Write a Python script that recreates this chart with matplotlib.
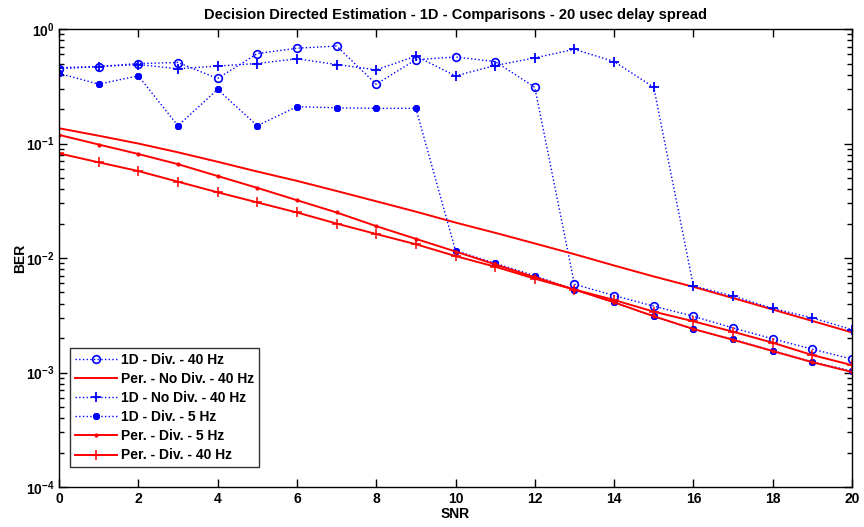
import matplotlib
matplotlib.use('Agg')
import matplotlib.pyplot as plt
import matplotlib.ticker as ticker
import numpy as np

plt.rcParams['font.family'] = ['Liberation Sans', 'DejaVu Sans']
plt.rcParams['font.weight'] = 'bold'
plt.rcParams['mathtext.fontset'] = 'custom'
plt.rcParams['mathtext.rm'] = 'Liberation Sans'
plt.rcParams['mathtext.bf'] = 'Liberation Sans:bold'

# SNR axis
snr = list(range(0, 21))

# BER values
ber_1d_div_40 = [0.45, 0.47, 0.50, 0.51, 0.37, 0.61, 0.68, 0.71, 0.33, 0.54, 0.57,
                 0.52, 0.31, 0.0059, 0.0047, 0.0038, 0.0031, 0.00245, 0.00197, 0.0016, 0.00131]
ber_per_nodiv_40 = [0.136, 0.117, 0.100, 0.0838, 0.0693, 0.0569, 0.0472, 0.0385, 0.0313, 0.0254, 0.0204,
                    0.0166, 0.0134, 0.0108, 0.0086, 0.0069, 0.0056, 0.00447, 0.00355, 0.00282, 0.00224]
ber_1d_nodiv_40 = [0.46, 0.47, 0.49, 0.45, 0.475, 0.50, 0.55, 0.49, 0.44, 0.58, 0.39,
                   0.48, 0.56, 0.665, 0.52, 0.31, 0.0057, 0.00466, 0.00363, 0.0030, 0.00237]
ber_1d_div_5 = [0.41, 0.33, 0.39, 0.143, 0.297, 0.143, 0.21, 0.205, 0.203, 0.203, 0.0116,
                0.0090, 0.0070, 0.0053, 0.0041, 0.0031, 0.00238, 0.00195, 0.00155, 0.00124, 0.00103]
ber_per_div_5 = [0.119, 0.098, 0.081, 0.066, 0.052, 0.041, 0.032, 0.025, 0.019, 0.0147, 0.0114,
                 0.0088, 0.0068, 0.0053, 0.0041, 0.0031, 0.0024, 0.00193, 0.00154, 0.00123, 0.00101]
ber_per_div_40 = [0.082, 0.0685, 0.0575, 0.0464, 0.0375, 0.0306, 0.025, 0.020, 0.0162, 0.0132, 0.0104,
                  0.0084, 0.0066, 0.0053, 0.0043, 0.0034, 0.0028, 0.00227, 0.00182, 0.00142, 0.00116]

labels = ['1D - Div. - 40 Hz', 'Per. - No Div. - 40 Hz', '1D - No Div. - 40 Hz',
          '1D - Div. - 5 Hz', 'Per. - Div. - 5 Hz', 'Per. - Div. - 40 Hz']

blue = (0, 0, 1)
red = (1, 0, 0)

fig = plt.figure(figsize=(8.64, 5.27), dpi=100)
ax = fig.add_axes([0.0683, 0.0759, 0.9178, 0.869])

ax.semilogy(snr, ber_1d_div_40, ':', color=blue, lw=1.0, marker='o', ms=5.5,
            mfc='none', mec=blue, mew=1.2, label=labels[0])
ax.semilogy(snr, ber_per_nodiv_40, '-', color=red, lw=1.4, label=labels[1])
ax.semilogy(snr, ber_1d_nodiv_40, ':', color=blue, lw=1.0, marker='+', ms=7,
            mew=1.3, label=labels[2])
ax.semilogy(snr, ber_1d_div_5, ':', color=blue, lw=1.0, marker=(8, 2, 0), ms=5,
            mew=1.4, label=labels[3])
ax.semilogy(snr, ber_per_div_5, '-', color=red, lw=1.4, marker='.', ms=4,
            label=labels[4])
ax.semilogy(snr, ber_per_div_40, '-', color=red, lw=1.4, marker='+', ms=7,
            mew=1.1, label=labels[5])

ax.set_xlim(0, 20)
ax.set_ylim(1e-4, 1)
ax.set_xticks(range(0, 21, 2))
ax.yaxis.set_major_locator(ticker.LogLocator(base=10, numticks=10))
ax.yaxis.set_minor_locator(ticker.LogLocator(base=10, subs=np.arange(2, 10), numticks=20))
ax.yaxis.set_minor_formatter(ticker.NullFormatter())
ax.yaxis.set_major_formatter(ticker.FuncFormatter(
    lambda v, p: r'$\mathbf{10}^{%d}$' % int(round(np.log10(v)))))

ax.tick_params(which='both', direction='in', top=True, right=True, labelsize=10)
ax.tick_params(which='major', length=6, width=1)
ax.tick_params(which='minor', length=3.5, width=1)
for s in ax.spines.values():
    s.set_linewidth(1.0)

ax.set_title('Decision Directed Estimation - 1D - Comparisons - 20 usec delay spread',
             fontsize=10.5, fontweight='bold', pad=7)
ax.set_xlabel('SNR', fontsize=10, fontweight='bold', labelpad=1)
ax.set_ylabel('BER', fontsize=10, fontweight='bold')
ax.yaxis.set_label_coords(-0.040, 0.5)

leg = ax.legend(loc='lower left', bbox_to_anchor=(0.014, 0.043), fontsize=10,
                frameon=True, fancybox=False, edgecolor='black', handlelength=3.0,
                labelspacing=0.37, borderpad=0.35, handletextpad=0.3, borderaxespad=0)
leg.get_frame().set_linewidth(1.0)

fig.savefig('out.png', dpi=100)
